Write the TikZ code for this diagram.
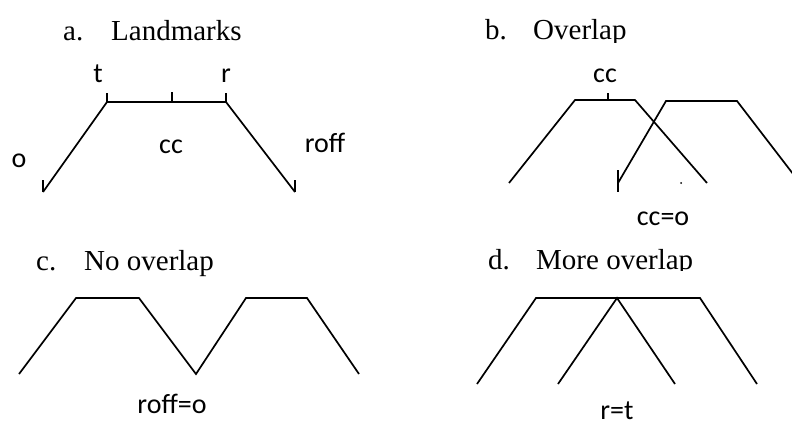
\documentclass[tikz,border=0pt]{standalone}
\usepackage{fontspec}
\setmainfont{Liberation Serif}
\newfontfamily\labelfont{Carlito}
\usetikzlibrary{positioning}
\tikzset{
  curve/.style={line width=1.7pt, line join=miter},
  tickline/.style={line width=1.4pt},
  title/.style={anchor=base west, inner sep=0pt, font=\fontsize{29}{34}\selectfont},
  lbl/.style={anchor=base, inner sep=0pt, font=\labelfont\fontsize{28}{33}\selectfont}
}
\newcommand{\paneltitle}[2]{\makebox[48pt][l]{#1}#2}

\begin{document}
\begin{tikzpicture}[x=1pt,y=-1pt]
  \useasboundingbox (0,0) rectangle (792,426);

  % a. Landmarks
  \node[title] (ta) at (63,40) {\paneltitle{a.}{Landmarks}};
  \coordinate (a-o) at (43,192);
  \coordinate (a-t) at (107,102);
  \coordinate (a-cc) at (172,102);
  \coordinate (a-r) at (226,102);
  \coordinate (a-roff) at (295,192);
  \draw[curve] (a-o) -- (a-t) -- (a-r) -- (a-roff);
  \draw[tickline] (a-t) -- ++(0,-9);
  \draw[tickline] (a-cc) -- ++(0,-10);
  \draw[tickline] (a-r) -- ++(0,-9);
  \draw[tickline] (a-o) -- ++(0,-12);
  \draw[tickline] (a-roff) -- ++(0,-12);
  \node[lbl] (lt) at (98,82) {t};
  \node[lbl] (lr) at (226,82) {r};
  \node[lbl] (lcc) at (171,153) {cc};
  \node[lbl] (lo) at (19,167) {o};
  \node[lbl] (lroff) at (325,152) {roff};

  % b. Overlap
  \begin{scope}
    \clip (470,0) rectangle (700,42);
    \node[title] (tb) at (485,39) {\paneltitle{b.}{Overlap}};
  \end{scope}
  \coordinate (b1-o) at (509,183);
  \coordinate (b1-t) at (575,100);
  \coordinate (b1-cc) at (608,100);
  \coordinate (b1-r) at (635,100);
  \coordinate (b1-roff) at (707,183);
  \draw[curve] (b1-o) -- (b1-t) -- (b1-r) -- (b1-roff);
  \draw[tickline] (b1-cc) -- ++(0,-7);
  \coordinate (b2-o) at (618,183);
  \coordinate (b2-t) at (666,101);
  \coordinate (b2-r) at (737,101);
  \coordinate (b2-roff) at (800,183);
  \draw[curve] (b2-o) -- (b2-t) -- (b2-r) -- (b2-roff);
  \draw[tickline] (618,170) -- (618,192);
  \fill (681,183) circle (1pt);
  \node[lbl] (bcc) at (605,82) {cc};
  \node[lbl] (bcco) at (663,225) {cc=o};

  % c. No overlap
  \node[title] (tc) at (36,270) {\paneltitle{c.}{No overlap}};
  \draw[curve] (19,374) -- (76,298) -- (139,298) -- (196,374)
               -- (246,298) -- (307,298) -- (359,374);
  \node[lbl] (croff) at (172,413) {roff=o};

  % d. More overlap
  \begin{scope}
    \clip (470,240) rectangle (720,270);
    \node[title] (td) at (488,269) {\paneltitle{d.}{More overlap}};
  \end{scope}
  \coordinate (d-apex) at (617,298);
  \draw[curve] (477,384) -- (536,298) -- (700,298) -- (757,384);
  \draw[curve] (558,384) -- (d-apex) -- (675,384);
  \node[lbl] (drt) at (617,419) {r=t};
\end{tikzpicture}
\end{document}
